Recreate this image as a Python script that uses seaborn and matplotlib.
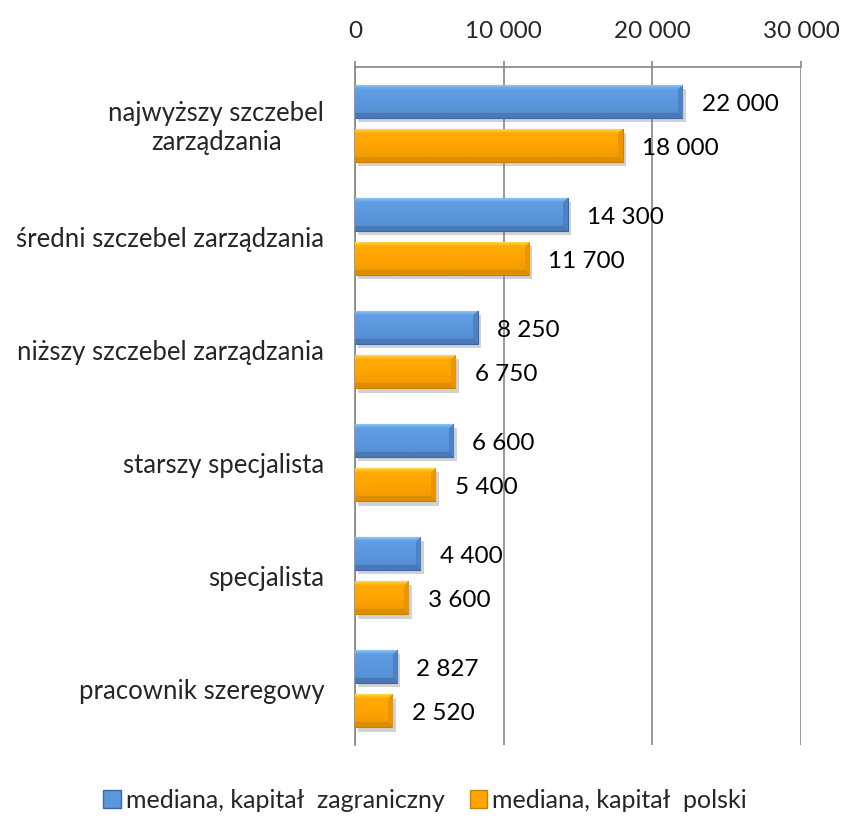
import numpy as np
import pandas as pd
import matplotlib
matplotlib.use("Agg")
import matplotlib.pyplot as plt
import matplotlib.patheffects as pe
from matplotlib.patches import Patch
from matplotlib.ticker import FuncFormatter, FixedLocator
import seaborn as sns

# dane
categories = ["najwyższy szczebel\nzarządzania", "średni szczebel zarządzania",
              "niższy szczebel zarządzania", "starszy specjalista",
              "specjalista", "pracownik szeregowy"]
series = ["mediana, kapitał  zagraniczny", "mediana, kapitał  polski"]
foreign = [22000, 14300, 8250, 6600, 4400, 2827]
polish = [18000, 11700, 6750, 5400, 3600, 2520]
x_ticks = [0, 10000, 20000, 30000]

# kolory: top, body, bottom, right, edge
BLUE = dict(top="#94cbf7", body="#5b97dd", bot="#4a78b8", right="#4c82c8", edge="#3a68a6")
ORANGE = dict(top="#ffe050", body="#ffa400", bot="#dc8e00", right="#e99700", edge="#c88200")

sns.set_style("white")
plt.rcParams["font.family"] = ["Lato", "DejaVu Sans"]

df = pd.DataFrame({
    "kat": categories * 2,
    "wartosc": foreign + polish,
    "seria": [series[0]] * len(categories) + [series[1]] * len(categories),
})

fig = plt.figure(figsize=(8.45, 8.3), dpi=100)
ax = fig.add_axes([0.420, 0.102, 0.528, 0.817])

sns.barplot(data=df, y="kat", x="wartosc", hue="seria", orient="h",
            palette=[BLUE["body"], ORANGE["body"]], width=0.78, gap=0.25,
            legend=False, ax=ax, zorder=3)

ax.set_xlim(0, 30000)
ax.set_ylim(len(categories) - 0.5, -0.5)
xl, yl = ax.get_xlim(), ax.get_ylim()


def hexrgb(c):
    return np.array(matplotlib.colors.to_rgb(c))


def shade(patch, pal):
    x0, y0 = patch.get_x(), patch.get_y()
    w, h = patch.get_width(), patch.get_height()
    p0 = ax.transData.transform((x0, y0))
    p1 = ax.transData.transform((x0 + w, y0 + h))
    m = max(int(abs(p1[0] - p0[0])), 2)
    n = max(int(abs(p1[1] - p0[1])), 2)
    ii, jj = np.mgrid[0:n, 0:m]
    d_t, d_b, d_r = ii, n - 1 - ii, m - 1 - jj
    b = 5
    t = (ii / (n - 1))[..., None]
    body = hexrgb(pal["body"])
    img = np.clip(body * (1.06 - 0.12 * t), 0, 1)
    dmin = np.minimum(np.minimum(d_t, d_b), d_r)
    edge = dmin < b
    top = edge & (d_t == dmin)
    bot = edge & (d_b == dmin) & ~top
    right = edge & (d_r == dmin) & ~top & ~bot
    # bevel gory zanika w strone korpusu
    fade = (d_t / b)[..., None]
    img = np.where(top[..., None], hexrgb(pal["top"]) * (1 - fade) + body * fade, img)
    img[bot] = hexrgb(pal["bot"])
    img[right] = hexrgb(pal["right"])
    im = ax.imshow(img, extent=(x0, x0 + w, y0 + h, y0), aspect="auto",
                   interpolation="bilinear", zorder=3.5)
    im.set_clip_path(patch)


bars = [p for p in ax.patches if p.get_width() > 0]
n_cat = len(categories)
for k, patch in enumerate(bars):
    pal = BLUE if k < n_cat else ORANGE
    patch.set_edgecolor(pal["edge"])
    patch.set_linewidth(0.8)
    patch.set_path_effects([pe.SimplePatchShadow(offset=(2.5, -3), shadow_rgbFace="#7f7f7f", alpha=0.35),
                            pe.Normal()])
    shade(patch, pal)
    val = patch.get_width()
    ax.annotate(f"{int(val):,}".replace(",", " "),
                xy=(val, patch.get_y() + patch.get_height() / 2),
                xytext=(14, -2), textcoords="offset points",
                ha="left", va="center", fontsize=17.5, color="black", zorder=6)

ax.set_xlim(xl)
ax.set_ylim(yl)

# osie
ax.xaxis.tick_top()
ax.xaxis.set_major_locator(FixedLocator(x_ticks))
ax.xaxis.set_major_formatter(FuncFormatter(lambda v, p: f"{int(v):,}".replace(",", " ")))
ax.tick_params(axis="x", direction="out", length=4, width=1.2, color="#868686",
               labelsize=17.5, pad=14)
ax.grid(True, axis="x", color="#868686", linewidth=1.2, zorder=0)
ax.set_axisbelow(True)

ax.yaxis.set_minor_locator(FixedLocator(np.arange(-0.5, n_cat, 1.0)))
ax.tick_params(axis="y", which="major", length=0, labelsize=18.5, pad=22)
ax.tick_params(axis="y", which="minor", length=6, width=1.2, color="#868686", direction="out")
for lab in ax.get_yticklabels():
    lab.set_multialignment("center")

ax.set_xlabel("")
ax.set_ylabel("")
for side in ["right", "bottom"]:
    ax.spines[side].set_visible(False)
for side in ["left", "top"]:
    ax.spines[side].set_color("#868686")
    ax.spines[side].set_linewidth(1.2)

handles = [Patch(facecolor=BLUE["body"], edgecolor=BLUE["edge"]),
           Patch(facecolor=ORANGE["body"], edgecolor=ORANGE["edge"])]
fig.legend(handles, series, loc="center", bbox_to_anchor=(0.503, 0.036), ncol=2,
           frameon=False, fontsize=18, handlelength=0.7, handleheight=0.7,
           handletextpad=0.2, columnspacing=1.0)

fig.savefig("out.png", dpi=100)
